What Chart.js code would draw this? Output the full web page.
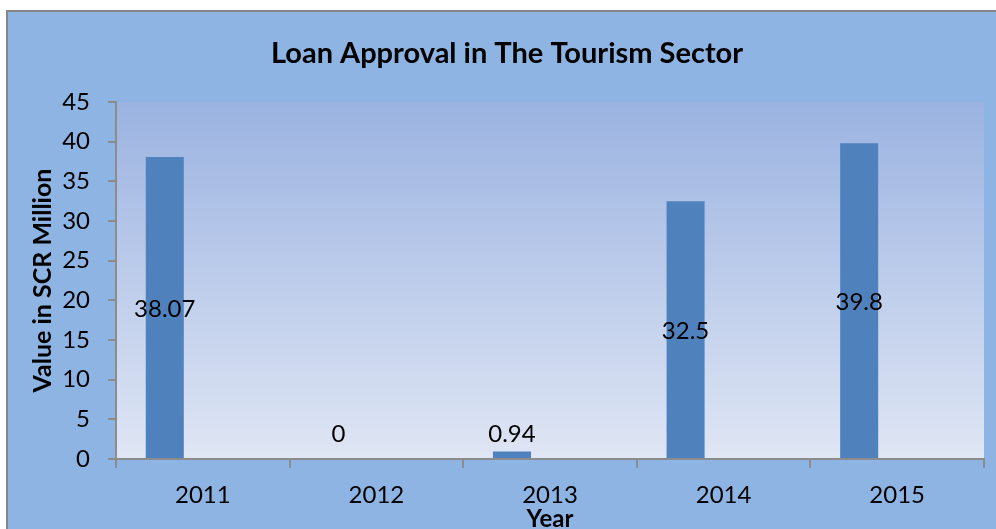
<!DOCTYPE html>
<html>
<head>
<meta charset="utf-8">
<script src="https://cdn.jsdelivr.net/npm/chart.js@4/dist/chart.umd.min.js"></script>
<style>
  html, body { margin: 0; padding: 0; background: #ffffff; }
  #wrap { position: absolute; left: 0; top: 0; width: 996px; height: 529px; }
</style>
</head>
<body>
<div id="wrap"><canvas id="chart" width="996" height="529"></canvas></div>
<script>
// Loan approvals by year (SCR million)
const years = ['2011', '2012', '2013', '2014', '2015'];
const loanValues = [38.07, 0, 0.94, 32.5, 39.8];
const yTicks = [0, 5, 10, 15, 20, 25, 30, 35, 40, 45];

const chartTitle = 'Loan Approval in The Tourism Sector';
const yTitle = 'Value in SCR Million';
const xTitle = 'Year';

const FONT = 'Lato, "Open Sans", sans-serif';
const AXIS_GREY = '#8c8c8c';

// Frame, panel fill and plot-area gradient
const backdrop = {
  id: 'backdrop',
  beforeDraw(chart) {
    const { ctx, chartArea: a } = chart;
    ctx.save();
    ctx.fillStyle = '#ffffff';
    ctx.fillRect(0, 0, chart.width, chart.height);
    ctx.fillStyle = '#8eb4e3';
    ctx.fillRect(7, 11, chart.width, chart.height);
    ctx.strokeStyle = '#868686';
    ctx.lineWidth = 2;
    ctx.beginPath();
    ctx.moveTo(7, chart.height + 5);
    ctx.lineTo(7, 11);
    ctx.lineTo(chart.width + 5, 11);
    ctx.stroke();
    const g = ctx.createLinearGradient(0, a.top, 0, a.bottom);
    g.addColorStop(0, '#9bb3e1');
    g.addColorStop(1, '#dfe6f4');
    ctx.fillStyle = g;
    ctx.fillRect(a.left, a.top, a.right - a.left, a.bottom - a.top);
    ctx.restore();
  }
};

// Value labels placed at mid-height of each bar (kept clear of the axis for small values)
const valueLabels = {
  id: 'valueLabels',
  afterDatasetsDraw(chart) {
    const { ctx } = chart;
    const yScale = chart.scales.y;
    const meta = chart.getDatasetMeta(0);
    ctx.save();
    ctx.font = '24px ' + FONT;
    ctx.fillStyle = '#000000';
    ctx.textAlign = 'center';
    ctx.textBaseline = 'middle';
    meta.data.forEach((bar, i) => {
      const v = loanValues[i];
      const y = yScale.getPixelForValue(Math.max(v / 2, 3.3));
      ctx.fillText(String(v), bar.x, y + 1);
    });
    ctx.restore();
  }
};

new Chart(document.getElementById('chart'), {
  type: 'bar',
  data: {
    labels: years,
    datasets: [
      { label: 'Loan Approval', data: loanValues, backgroundColor: '#4f81bd', borderWidth: 0 },
      { label: '', data: [], backgroundColor: 'rgba(0,0,0,0)' },
      { label: '', data: [], backgroundColor: 'rgba(0,0,0,0)' }
    ]
  },
  options: {
    responsive: false,
    animation: false,
    devicePixelRatio: 1,
    categoryPercentage: 0.657,
    barPercentage: 1,
    layout: { padding: { left: 30, right: 12, top: 0, bottom: 0 } },
    plugins: {
      legend: { display: false },
      tooltip: { enabled: false },
      title: {
        display: true,
        text: chartTitle,
        color: '#000000',
        font: { family: FONT, size: 29, weight: 'bold', lineHeight: 1.2 },
        padding: { top: 36, bottom: 31.2 }
      }
    },
    scales: {
      x: {
        afterFit(scale) { scale.height = 70; },
        border: { display: true, color: AXIS_GREY, width: 2 },
        grid: { display: true, drawOnChartArea: false, drawTicks: true, tickLength: 9, color: AXIS_GREY, lineWidth: 2 },
        ticks: { color: '#000000', font: { family: FONT, size: 24 }, padding: 13 },
        title: {
          display: true,
          text: xTitle,
          color: '#000000',
          font: { family: FONT, size: 24, weight: 'bold', lineHeight: 0.85 },
          padding: { top: 0, bottom: 0 }
        }
      },
      y: {
        min: 0,
        max: 45,
        afterFit(scale) { scale.width = 86; },
        afterBuildTicks(scale) { scale.ticks = yTicks.map(v => ({ value: v })); },
        border: { display: true, color: AXIS_GREY, width: 2 },
        grid: { display: true, drawOnChartArea: false, drawTicks: true, tickLength: 8, color: AXIS_GREY, lineWidth: 2 },
        ticks: { color: '#000000', font: { family: FONT, size: 24 }, padding: 18 },
        title: {
          display: true,
          text: yTitle,
          color: '#000000',
          font: { family: FONT, size: 25, weight: 'bold', lineHeight: 1 },
          padding: { top: 0, bottom: 0 }
        }
      }
    }
  },
  plugins: [backdrop, valueLabels]
});
</script>
</body>
</html>
